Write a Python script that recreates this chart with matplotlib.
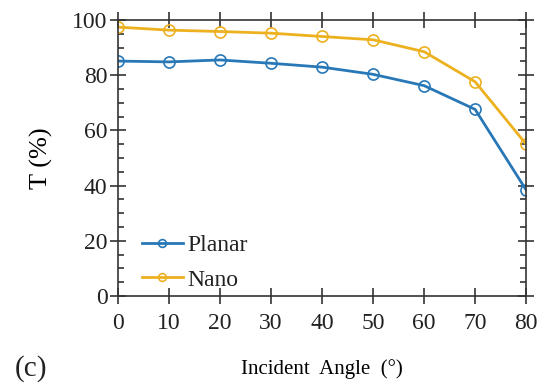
import matplotlib
matplotlib.use("Agg")
import matplotlib.pyplot as plt
from matplotlib.ticker import MultipleLocator

# incident angle (deg) and transmittance (%)
angles = [0, 10, 20, 30, 40, 50, 60, 70, 80]
planar = [85.1, 84.8, 85.5, 84.3, 82.9, 80.3, 76.2, 67.6, 38.4]
nano = [97.4, 96.3, 95.8, 95.2, 94.0, 92.8, 88.5, 77.6, 55.0]

blue = "#2878b8"
gold = "#EDB120"

plt.rcParams['font.family'] = ['Liberation Serif', 'DejaVu Serif']
plt.rcParams['text.color'] = '#222222'

fig = plt.figure(figsize=(5.38, 3.83), dpi=100)
ax = fig.add_axes([0.219, 0.227, 0.759, 0.721])

ax.plot(angles, planar, '-o', color=blue, lw=2, ms=8, mfc='none', mew=1.2, label='Planar')
ax.plot(angles, nano, '-o', color=gold, lw=2, ms=8, mfc='none', mew=1.2, label='Nano')

ax.set_xlim(0, 80)
ax.set_ylim(0, 100)
ax.xaxis.set_major_locator(MultipleLocator(10))
ax.yaxis.set_major_locator(MultipleLocator(20))
ax.yaxis.set_minor_locator(MultipleLocator(5))

ax.tick_params(axis='both', which='major', direction='inout', length=11, width=1.2,
               labelsize=17, top=True, right=True, colors='#333333', labelcolor='#222222')
ax.tick_params(axis='x', which='major', pad=7)
ax.tick_params(axis='y', which='major', pad=2)
ax.tick_params(axis='y', which='minor', direction='in', length=4.5, width=1.2,
               right=True, color='#333333')
for s in ax.spines.values():
    s.set_linewidth(1.2)
    s.set_color('#333333')

ax.set_xlabel('Incident  Angle  (°)', fontsize=15, labelpad=18)
ax.set_ylabel('T (%)', fontsize=19, labelpad=14)

ax.legend(loc='lower left', frameon=False, fontsize=17, handlelength=1.75,
          handletextpad=0.2, borderaxespad=0, borderpad=0, labelspacing=0.55,
          markerscale=0.7, bbox_to_anchor=(0.058, 0.02))

fig.text(0.028, 0.018, '(c)', fontsize=21)

fig.savefig('out.png', dpi=100)
